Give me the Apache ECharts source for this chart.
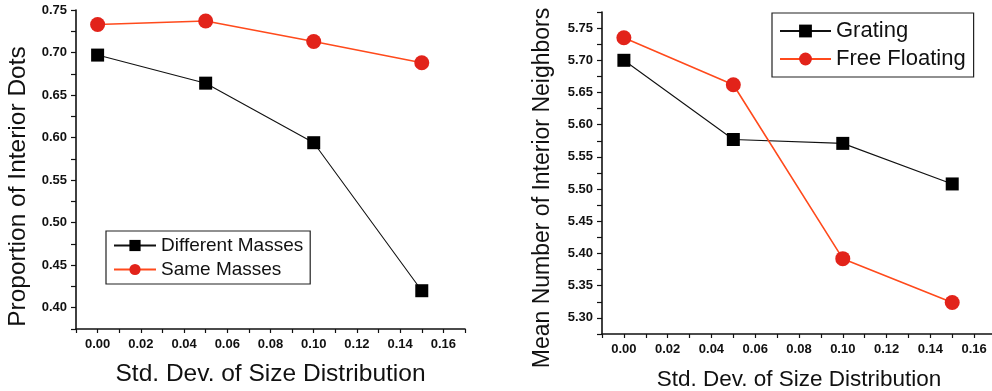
<!DOCTYPE html>
<html>
<head>
<meta charset="utf-8">
<script src="https://cdn.jsdelivr.net/npm/echarts@6/dist/echarts.min.js"></script>
<style>
html,body{margin:0;padding:0;background:#fff;}
#left{position:absolute;left:0;top:0;width:496px;height:391px;}
#right{position:absolute;left:496px;top:0;width:496px;height:391px;}
</style>
</head>
<body>
<div id="left"></div>
<div id="right"></div>
<script>
// ---- data ----
const xValues = [0.00, 0.05, 0.10, 0.15];
const differentMasses = [0.697, 0.664, 0.594, 0.420];
const sameMasses = [0.733, 0.737, 0.713, 0.688];
const grating = [5.700, 5.577, 5.571, 5.508];
const freeFloating = [5.735, 5.662, 5.392, 5.324];
const xLabelStep = 0.02;
const yLabelStep = 0.05;
const xTitle = 'Std. Dev. of Size Distribution';
const leftYTitle = 'Proportion of Interior Dots';
const rightYTitle = 'Mean Number of Interior Neighbors';
const leftLegend = ['Different Masses', 'Same Masses'];
const rightLegend = ['Grating', 'Free Floating'];

const FONT = "'Liberation Sans', Arial, sans-serif";
const BLACK = '#111';
const RED_FILL = '#e2231a';
const RED_LINE = '#ff4a1c';

function pairs(xs, ys){ return xs.map((x,i)=>[x, ys[i]]); }
function isMultiple(v, step){ const r = v / step; return Math.abs(r - Math.round(r)) < 1e-6; }

function makeOption(cfg){
  return {
    animation:false,
    grid:[{left:cfg.gridLeft, top:cfg.gridTop, width:cfg.gridW, height:cfg.gridH, outerBoundsMode:'none', containLabel:false}],
    xAxis:[{
      type:'value', position:'bottom', min:-0.01, max:0.17, interval:0.01,
      name:xTitle, nameLocation:'middle', nameGap:cfg.xNameGap,
      nameTextStyle:{fontFamily:FONT, fontSize:cfg.xNameSize, color:BLACK},
      axisLine:{show:true, onZero:false, lineStyle:{color:BLACK, width:1.6}},
      axisTick:{show:true, length:4, lineStyle:{color:BLACK, width:1.2}},
      axisLabel:{show:true, margin:9, showMinLabel:true, showMaxLabel:true,
        formatter:(v)=> (v >= -1e-9 && v < 0.165 && isMultiple(v, xLabelStep)) ? Math.abs(v).toFixed(2) : '',
        fontFamily:FONT, fontWeight:'bold', fontSize:13, color:BLACK},
      splitLine:{show:false}
    }],
    yAxis:[{
      type:'value', position:'left', min:cfg.yMin, max:cfg.yMax, interval:0.025,
      axisLine:{show:true, onZero:false, lineStyle:{color:BLACK, width:1.6}},
      axisTick:{show:true, length:5, lineStyle:{color:BLACK, width:1.2}},
      axisLabel:{show:true, margin:9, showMinLabel:true, showMaxLabel:true,
        formatter:(v)=> isMultiple(v, yLabelStep) ? Number(v).toFixed(2) : '',
        fontFamily:FONT, fontWeight:'bold', fontSize:13, color:BLACK},
      splitLine:{show:false}
    }],
    graphic:[{
      type:'text', x:cfg.yTitleX, y:cfg.yTitleY, rotation:Math.PI/2,
      style:{text:cfg.yName, font:cfg.yNameSize + "px 'Liberation Sans', Arial, sans-serif",
        fill:BLACK, align:'center', verticalAlign:'middle'}
    }],
    legend:[{
      data:cfg.legendNames, orient:'vertical', left:cfg.legLeft, top:cfg.legTop,
      itemWidth:cfg.legItemW, itemHeight:cfg.legItemH, itemGap:cfg.legGap,
      padding:cfg.legPad, borderColor:'#222', borderWidth:1.2,
      textStyle:{fontFamily:FONT, fontSize:cfg.legFont, color:BLACK, lineHeight:cfg.legFont},
      selectedMode:false
    }],
    series:[
      {name:cfg.legendNames[0], type:'line', data:pairs(xValues, cfg.black),
       symbol:'rect', symbolSize:13, showSymbol:true,
       lineStyle:{color:BLACK, width:1.1}, itemStyle:{color:'#000'}, z:3},
      {name:cfg.legendNames[1], type:'line', data:pairs(xValues, cfg.red),
       symbol:'circle', symbolSize:15, showSymbol:true,
       lineStyle:{color:RED_LINE, width:1.6}, itemStyle:{color:RED_FILL}, z:4}
    ]
  };
}

const leftChart = echarts.init(document.getElementById('left'));
leftChart.setOption(makeOption({
  gridLeft:76, gridTop:10, gridW:389, gridH:319,
  yMin:0.375, yMax:0.75, yName:leftYTitle, yNameSize:24.5, yTitleX:18, yTitleY:186.5,
  xNameGap:33, xNameSize:24.5,
  legendNames:leftLegend, legLeft:106, legTop:231, legItemW:42, legItemH:14, legGap:5,
  legPad:[5,7,5,7], legFont:19,
  black:differentMasses, red:sameMasses
}));

const rightChart = echarts.init(document.getElementById('right'));
rightChart.setOption(makeOption({
  gridLeft:106, gridTop:12, gridW:394, gridH:322,
  yMin:5.275, yMax:5.775, yName:rightYTitle, yNameSize:23, yTitleX:47, yTitleY:188,
  xNameGap:34, xNameSize:22.5,
  legendNames:rightLegend, legLeft:276, legTop:13, legItemW:51, legItemH:16, legGap:6,
  legPad:[7,8,7,7], legFont:22,
  black:grating, red:freeFloating
}));
</script>
</body>
</html>
